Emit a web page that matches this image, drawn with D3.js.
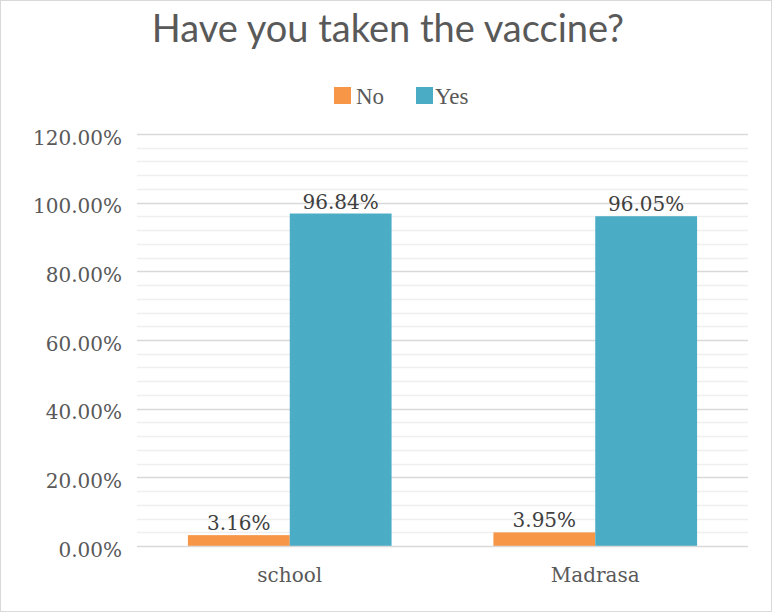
<!DOCTYPE html>
<html>
<head>
<meta charset="utf-8">
<script src="https://cdn.jsdelivr.net/npm/d3@7"></script>
<style>
  html, body { margin: 0; padding: 0; background: #fff; }
  svg { display: block; }
</style>
</head>
<body>
<svg id="chart" width="775" height="613"></svg>
<script>
// Survey answers by institution type
const categories = ["school", "Madrasa"];
const seriesNames = ["No", "Yes"];
const noValues = [3.16, 3.95];
const yesValues = [96.84, 96.05];
const yTicks = [0, 20, 40, 60, 80, 100, 120];

const colors = { No: "#F79646", Yes: "#4BACC6" };
const textColor = "#595959";
const serif = "'DejaVu Serif', 'Liberation Serif', serif";

const svg = d3.select("#chart");

// outer chart frame
svg.append("rect")
  .attr("x", 0.5).attr("y", 0.5)
  .attr("width", 771).attr("height", 611)
  .attr("fill", "#fff").attr("stroke", "#D9D9D9");

const plot = { left: 137, right: 748, top: 134, bottom: 546 };

const x = d3.scaleBand().domain(categories)
  .range([plot.left, plot.right]).paddingInner(0).paddingOuter(0);
const xs = d3.scaleBand().domain(seriesNames)
  .range([0, x.bandwidth()]).paddingInner(0).paddingOuter(0.5);
const y = d3.scaleLinear().domain([0, 120]).range([plot.bottom, plot.top]);

// minor gridlines every 4%
const minor = d3.range(0, 121, 4).filter(v => v % 20 !== 0);
svg.append("g").selectAll("line").data(minor).join("line")
  .attr("x1", plot.left).attr("x2", plot.right)
  .attr("y1", d => Math.round(y(d)) + 0.5).attr("y2", d => Math.round(y(d)) + 0.5)
  .attr("stroke", "#EFEFEF").attr("stroke-width", 1.5);

// major gridlines
svg.append("g").selectAll("line").data(yTicks.filter(v => v > 0)).join("line")
  .attr("x1", plot.left).attr("x2", plot.right)
  .attr("y1", d => Math.round(y(d)) + 0.5).attr("y2", d => Math.round(y(d)) + 0.5)
  .attr("stroke", "#D9D9D9").attr("stroke-width", 1.5);

// y axis labels
const yAxis = d3.axisLeft(y).tickValues(yTicks)
  .tickFormat(d => d.toFixed(2) + "%").tickSize(0).tickPadding(15);
const gy = svg.append("g").attr("transform", `translate(${plot.left},0)`).call(yAxis);
gy.select(".domain").remove();
gy.selectAll("text")
  .attr("dy", "0.5em")
  .attr("fill", textColor).style("font-family", serif).style("font-size", "20px");

// bars
const rows = categories.map((c, i) => ({ cat: c, No: noValues[i], Yes: yesValues[i] }));
const groups = svg.append("g").selectAll("g").data(rows).join("g")
  .attr("transform", d => `translate(${x(d.cat)},0)`);

groups.selectAll("rect").data(d => seriesNames.map(s => ({ s, v: d[s] }))).join("rect")
  .attr("x", d => xs(d.s)).attr("width", xs.bandwidth())
  .attr("y", d => y(d.v)).attr("height", d => y(0) - y(d.v))
  .attr("fill", d => colors[d.s]);

groups.selectAll("text.lbl").data(d => seriesNames.map(s => ({ s, v: d[s] }))).join("text")
  .attr("class", "lbl")
  .attr("x", d => xs(d.s) + xs.bandwidth() / 2)
  .attr("y", d => y(d.v) - 5)
  .attr("text-anchor", "middle")
  .attr("fill", "#404040")
  .style("font-family", serif).style("font-size", "20px")
  .text(d => d.v.toFixed(2) + "%");

// x baseline
svg.append("line")
  .attr("x1", plot.left).attr("x2", plot.right)
  .attr("y1", plot.bottom + 0.5).attr("y2", plot.bottom + 0.5)
  .attr("stroke", "#D9D9D9").attr("stroke-width", 1.5);

// x axis labels
const xAxis = d3.axisBottom(x).tickSize(0).tickPadding(22);
const gx = svg.append("g").attr("transform", `translate(0,${plot.bottom})`).call(xAxis);
gx.select(".domain").remove();
gx.selectAll("text")
  .attr("fill", textColor).style("font-family", serif).style("font-size", "20px");

// title
svg.append("text")
  .attr("x", 388).attr("y", 42)
  .attr("text-anchor", "middle")
  .attr("fill", textColor)
  .style("font-family", "Lato, 'Open Sans', sans-serif")
  .style("font-size", "38px")
  .text("Have you taken the vaccine?");

// legend
const legendItems = [
  { s: "No", x: 334 },
  { s: "Yes", x: 416 }
];
const lg = svg.append("g").selectAll("g").data(legendItems).join("g")
  .attr("transform", d => `translate(${d.x},87)`);
lg.append("rect").attr("width", 17).attr("height", 17).attr("fill", d => colors[d.s]);
lg.append("text").attr("x", d => d.s === "No" ? 22 : 19).attr("y", 17)
  .attr("fill", textColor)
  .style("font-family", "'Liberation Serif', serif").style("font-size", "23px")
  .text(d => d.s);
</script>
</body>
</html>
